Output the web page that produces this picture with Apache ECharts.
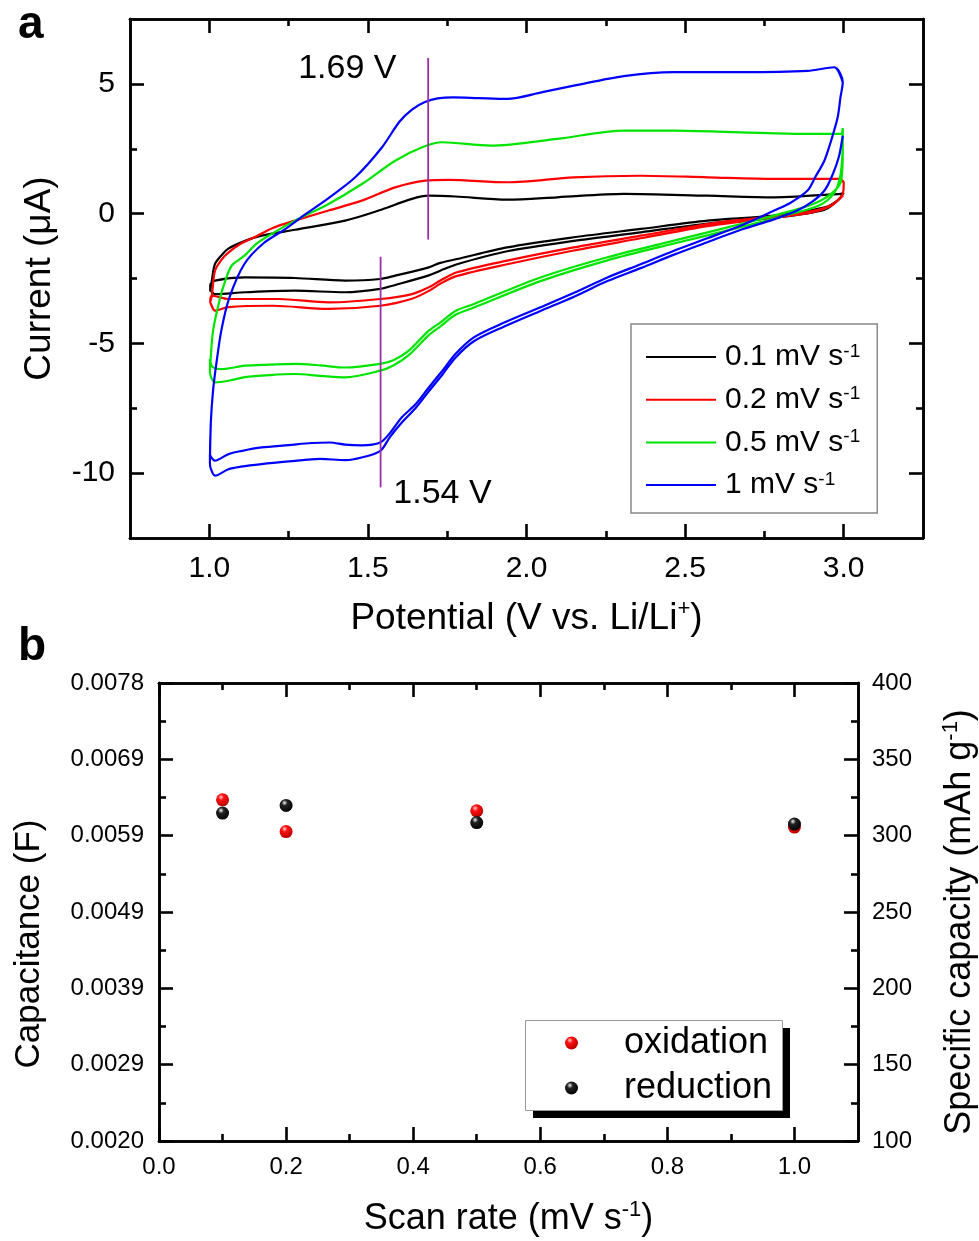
<!DOCTYPE html>
<html>
<head>
<meta charset="utf-8">
<script src="https://cdn.jsdelivr.net/npm/echarts@6/dist/echarts.min.js"></script>
<style>
  html, body { margin: 0; padding: 0; background: #ffffff; }
  #chart { width: 979px; height: 1241px; }
</style>
</head>
<body>
<div id="chart"></div>
<script>
// ---------- Panel a: cyclic voltammograms ----------
const potentialTicks = [1.0, 1.5, 2.0, 2.5, 3.0];
const potentialMinorTicks = [1.25, 1.75, 2.25, 2.75];
const currentTicks = [-10, -5, 0, 5];
const currentMinorTicks = [-7.5, -2.5, 2.5];
const scanRates = ['0.1', '0.2', '0.5', '1'];
const cvColors = ['#000000', '#ff0000', '#00e400', '#0000ff'];

// [potential (V), current (µA)] — first cathodic sweep, anodic sweep, second cathodic sweep
const cv01CathodicA = [[2.99,0.62],[2.94,0.15],[2.781,-0.16],[2.571,-0.38],[2.36,-0.72],[2.149,-1.05],[1.939,-1.45],[1.781,-1.95],[1.728,-2.2],[1.692,-2.38],[1.586,-2.75],[1.539,-2.9],[1.428,-3.03],[1.27,-2.97],[1.113,-3.03],[1.018,-3.1],[1.003,-2.95]];
const cv01Anodic = [[1.003,-3.0],[1.008,-2.58],[1.018,-1.94],[1.039,-1.6],[1.06,-1.35],[1.113,-1.05],[1.165,-0.85],[1.27,-0.62],[1.428,-0.27],[1.534,0.12],[1.639,0.57],[1.692,0.69],[1.776,0.66],[1.939,0.54],[2.097,0.63],[2.307,0.76],[2.571,0.69],[2.781,0.63],[2.99,0.76],[3.0,0.8]];
const cv01CathodicB = [[3.0,0.8],[2.98,0.5],[2.94,0.24],[2.781,-0.08],[2.571,-0.27],[2.36,-0.59],[2.149,-0.91],[1.939,-1.3],[1.781,-1.75],[1.728,-1.9],[1.692,-2.07],[1.586,-2.39],[1.539,-2.52],[1.428,-2.58],[1.27,-2.48],[1.113,-2.46],[1.018,-2.58],[1.003,-2.75]];

const cv02CathodicA = [[2.998,0.7],[2.96,0.3],[2.9,0.05],[2.78,-0.16],[2.571,-0.48],[2.36,-0.95],[2.149,-1.42],[1.939,-1.95],[1.781,-2.4],[1.728,-2.7],[1.692,-2.98],[1.639,-3.28],[1.539,-3.55],[1.376,-3.67],[1.2,-3.55],[1.06,-3.6],[1.018,-3.74],[1.004,-3.45]];
const cv02Anodic = [[1.003,-3.4],[1.008,-3.16],[1.018,-2.2],[1.04,-1.75],[1.06,-1.5],[1.1,-1.15],[1.144,-0.9],[1.2,-0.55],[1.27,-0.27],[1.376,0.12],[1.481,0.5],[1.586,1.01],[1.681,1.27],[1.755,1.3],[1.939,1.21],[2.149,1.4],[2.36,1.46],[2.571,1.4],[2.781,1.34],[2.981,1.34],[3.0,1.21]];
const cv02CathodicB = [[3.0,1.21],[2.998,0.8],[2.97,0.4],[2.92,0.15],[2.8,-0.08],[2.65,-0.27],[2.571,-0.4],[2.36,-0.85],[2.149,-1.3],[1.939,-1.81],[1.781,-2.26],[1.728,-2.58],[1.692,-2.84],[1.639,-3.1],[1.539,-3.29],[1.376,-3.42],[1.218,-3.29],[1.06,-3.29],[1.008,-3.16]];

const cv05CathodicA = [[2.997,2.6],[2.99,1.5],[2.97,0.8],[2.92,0.3],[2.8,-0.12],[2.676,-0.52],[2.465,-1.15],[2.255,-1.8],[2.044,-2.6],[1.834,-3.62],[1.776,-3.9],[1.728,-4.35],[1.692,-4.68],[1.629,-5.45],[1.58,-5.85],[1.539,-6.05],[1.428,-6.31],[1.35,-6.25],[1.27,-6.18],[1.19,-6.22],[1.113,-6.3],[1.06,-6.44],[1.018,-6.5],[1.003,-6.2]];
const cv05Anodic = [[1.002,-6.0],[1.003,-5.8],[1.012,-4.5],[1.034,-3.25],[1.05,-2.6],[1.071,-2.0],[1.113,-1.6],[1.15,-1.15],[1.197,-0.78],[1.27,-0.27],[1.376,0.37],[1.481,1.14],[1.586,2.04],[1.671,2.56],[1.734,2.75],[1.886,2.62],[2.097,2.88],[2.307,3.2],[2.465,3.2],[2.676,3.13],[2.886,3.07],[2.99,3.07],[2.997,3.3]];
const cv05CathodicB = [[2.997,3.3],[2.997,2.4],[2.992,1.27],[2.96,0.76],[2.9,0.35],[2.8,-0.01],[2.676,-0.4],[2.465,-1.04],[2.255,-1.68],[2.044,-2.46],[1.834,-3.48],[1.776,-3.75],[1.728,-4.2],[1.692,-4.51],[1.629,-5.28],[1.58,-5.65],[1.539,-5.79],[1.428,-5.93],[1.35,-5.85],[1.27,-5.79],[1.19,-5.82],[1.113,-5.86],[1.039,-5.99],[1.01,-5.9],[1.002,-5.6]];

const cv1CathodicA = [[2.997,3.0],[2.985,2.2],[2.965,1.5],[2.94,0.9],[2.9,0.45],[2.85,0.1],[2.78,-0.22],[2.676,-0.62],[2.57,-1.1],[2.465,-1.58],[2.36,-2.1],[2.255,-2.6],[2.15,-3.2],[2.044,-3.75],[1.93,-4.35],[1.834,-4.92],[1.776,-5.55],[1.735,-6.2],[1.692,-6.85],[1.65,-7.5],[1.607,-8.05],[1.57,-8.6],[1.539,-9.14],[1.48,-9.4],[1.428,-9.5],[1.35,-9.45],[1.25,-9.55],[1.165,-9.65],[1.1,-9.75],[1.06,-9.85],[1.018,-10.1],[1.004,-9.8]];
const cv1Anodic = [[1.002,-9.6],[1.005,-8.0],[1.012,-6.8],[1.022,-5.8],[1.038,-4.5],[1.063,-3.25],[1.11,-1.95],[1.17,-1.15],[1.239,-0.6],[1.3,-0.05],[1.376,0.6],[1.46,1.4],[1.544,2.55],[1.6,3.55],[1.64,4.02],[1.68,4.3],[1.72,4.44],[1.77,4.48],[1.85,4.45],[1.939,4.42],[2.05,4.68],[2.149,4.93],[2.307,5.3],[2.465,5.45],[2.676,5.45],[2.886,5.5],[2.97,5.64],[2.997,5.06]];
const cv1CathodicB = [[2.997,5.06],[2.99,4.5],[2.981,3.71],[2.96,2.8],[2.939,2.04],[2.91,1.4],[2.886,0.89],[2.83,0.4],[2.781,0.12],[2.676,-0.46],[2.57,-0.95],[2.465,-1.43],[2.36,-1.95],[2.255,-2.46],[2.15,-3.05],[2.044,-3.61],[1.93,-4.2],[1.834,-4.77],[1.776,-5.41],[1.735,-6.05],[1.692,-6.7],[1.65,-7.35],[1.607,-7.85],[1.57,-8.45],[1.539,-8.82],[1.48,-8.93],[1.428,-8.9],[1.38,-8.82],[1.323,-8.84],[1.25,-8.92],[1.165,-9.01],[1.1,-9.15],[1.06,-9.27],[1.018,-9.52],[1.002,-9.3]];

const cvSweeps = [
  [cv01CathodicA, cv01Anodic, cv01CathodicB],
  [cv02CathodicA, cv02Anodic, cv02CathodicB],
  [cv05CathodicA, cv05Anodic, cv05CathodicB],
  [cv1CathodicA, cv1Anodic, cv1CathodicB]
];

// peak potentials marked with vertical guides
const oxidationPeak = 1.69;
const reductionPeak = 1.54;
const oxidationGuide = [6.0, -1.0];
const reductionGuide = [-1.66, -10.55];

// ---------- Panel b: capacitance / specific capacity vs scan rate ----------
const scanRateValues = [0.1, 0.2, 0.5, 1.0];
const oxidationCapacity = [323.5, 302.7, 316.3, 305.6];
const reductionCapacity = [314.8, 319.8, 308.6, 307.6];
const scanRateTicks = [0, 0.2, 0.4, 0.6, 0.8, 1.0];
const scanRateMinorTicks = [0.1, 0.3, 0.5, 0.7, 0.9];
const capacityTicks = [100, 150, 200, 250, 300, 350, 400];
const capacityMinorTicks = [125, 175, 225, 275, 325, 375];
const capacitanceTicks = ['0.0020', '0.0029', '0.0039', '0.0049', '0.0059', '0.0069', '0.0078'];

const FONT = '"Liberation Sans", Arial, Helvetica, sans-serif';
const BLACK = '#000000';

function tickAxis(base, values, len, width, withLabels, labelOpt) {
  return Object.assign({
    type: 'value',
    axisLine: { show: true, onZero: false, lineStyle: { color: BLACK, width: width } },
    axisTick: { show: true, inside: true, length: len, customValues: values, lineStyle: { color: BLACK, width: width } },
    axisLabel: withLabels ? Object.assign({ show: true, customValues: values, color: BLACK, fontFamily: FONT }, labelOpt) : { show: false },
    splitLine: { show: false },
    minorTick: { show: false },
    minorSplitLine: { show: false }
  }, base);
}

function sphere(light, mid, dark) {
  return {
    type: 'radial', x: 0.38, y: 0.3, r: 0.75,
    colorStops: [
      { offset: 0, color: light },
      { offset: 0.3, color: mid },
      { offset: 1, color: dark }
    ]
  };
}

function supRich(size) {
  return {
    t: { fontSize: size, fontFamily: FONT, color: BLACK, lineHeight: size + 4 },
    s: { fontSize: Math.round(size * 0.6), fontFamily: FONT, color: BLACK, lineHeight: 14, verticalAlign: 'top' }
  };
}

const cvSeries = scanRates.map((rate, i) => {
  const [cathA, anodic, cathB] = cvSweeps[i];
  return {
    name: rate,
    type: 'line',
    xAxisIndex: 0,
    yAxisIndex: 0,
    data: [].concat(cathA, anodic, cathB, anodic),
    symbol: 'none',
    smooth: 0.3,
    lineStyle: { color: cvColors[i], width: 2.2 },
    itemStyle: { color: cvColors[i] },
    z: 3 + i
  };
});

const guideColor = '#9a2fa6';
function guideSeries(v, span) {
  return {
    type: 'line', xAxisIndex: 0, yAxisIndex: 0,
    data: [[v, span[0]], [v, span[1]]],
    symbol: 'none', silent: true,
    lineStyle: { color: guideColor, width: 1.8 },
    z: 10
  };
}
function peakLabelSeries(v, at) {
  return {
    type: 'scatter', xAxisIndex: 0, yAxisIndex: 0,
    data: [at], symbolSize: 1, silent: true,
    itemStyle: { color: 'rgba(0,0,0,0)', opacity: 1 },
    label: {
      show: true, position: 'inside', formatter: v.toFixed(2) + ' V',
      fontSize: 34, color: BLACK, opacity: 1, textBorderWidth: 0, fontFamily: FONT
    },
    z: 11
  };
}

const option = {
  animation: false,
  backgroundColor: '#ffffff',
  grid: [
    { left: 130, top: 19, width: 793, height: 519, outerBoundsMode: 'none' },
    { left: 159, top: 683, width: 699, height: 458, outerBoundsMode: 'none' }
  ],
  xAxis: [
    tickAxis({ gridIndex: 0, position: 'bottom', min: 0.75, max: 3.25,
      name: '{t|Potential (V vs. Li/Li}{s|+}{t|)}', nameLocation: 'middle', nameGap: 60,
      nameTextStyle: { rich: supRich(37) } },
      potentialTicks, 14, 2.6, true, { fontSize: 30, margin: 16, formatter: v => v.toFixed(1) }),
    tickAxis({ gridIndex: 0, position: 'bottom', min: 0.75, max: 3.25 }, potentialMinorTicks, 7, 2.6, false),
    tickAxis({ gridIndex: 0, position: 'top', min: 0.75, max: 3.25 }, potentialTicks, 14, 2.6, false),
    tickAxis({ gridIndex: 0, position: 'top', min: 0.75, max: 3.25 }, potentialMinorTicks, 7, 2.6, false),

    tickAxis({ gridIndex: 1, position: 'bottom', min: 0, max: 1.1,
      name: '{t|Scan rate (mV s}{s|-1}{t|)}', nameLocation: 'middle', nameGap: 58,
      nameTextStyle: { rich: supRich(36) } },
      scanRateTicks, 14, 2.6, true, { fontSize: 24, margin: 14, formatter: v => v.toFixed(1) }),
    tickAxis({ gridIndex: 1, position: 'bottom', min: 0, max: 1.1 }, scanRateMinorTicks, 7, 2.6, false),
    tickAxis({ gridIndex: 1, position: 'top', min: 0, max: 1.1 }, scanRateTicks, 14, 2.6, false),
    tickAxis({ gridIndex: 1, position: 'top', min: 0, max: 1.1 }, scanRateMinorTicks, 7, 2.6, false)
  ],
  yAxis: [
    tickAxis({ gridIndex: 0, position: 'left', min: -12.5, max: 7.5,
      name: 'Current (\u03bcA)', nameLocation: 'middle', nameGap: 72, nameRotate: 90,
      nameTextStyle: { fontSize: 37, fontFamily: FONT, color: BLACK } },
      currentTicks, 14, 2.6, true, { fontSize: 30, margin: 15, formatter: v => String(v) }),
    tickAxis({ gridIndex: 0, position: 'left', min: -12.5, max: 7.5 }, currentMinorTicks, 7, 2.6, false),
    tickAxis({ gridIndex: 0, position: 'right', min: -12.5, max: 7.5 }, currentTicks, 14, 2.6, false),
    tickAxis({ gridIndex: 0, position: 'right', min: -12.5, max: 7.5 }, currentMinorTicks, 7, 2.6, false),

    tickAxis({ gridIndex: 1, position: 'left', min: 100, max: 400,
      name: 'Capacitance (F)', nameLocation: 'middle', nameGap: 112, nameRotate: 90,
      nameTextStyle: { fontSize: 35, fontFamily: FONT, color: BLACK, padding: [0, 64, 0, 0] } },
      capacityTicks, 14, 2.6, true, { fontSize: 24, margin: 15, formatter: v => capacitanceTicks[Math.round((v - 100) / 50)] }),
    tickAxis({ gridIndex: 1, position: 'left', min: 100, max: 400 }, capacityMinorTicks, 7, 2.6, false),
    tickAxis({ gridIndex: 1, position: 'right', min: 100, max: 400,
      name: '{t|Specific capacity (mAh g}{s|-1}{t|)}', nameLocation: 'middle', nameGap: 82, nameRotate: 90,
      nameTextStyle: { rich: supRich(36), padding: [0, 20, 0, 0] } },
      capacityTicks, 14, 2.6, true, { fontSize: 24, margin: 14, formatter: v => String(v) }),
    tickAxis({ gridIndex: 1, position: 'right', min: 100, max: 400 }, capacityMinorTicks, 7, 2.6, false)
  ],
  legend: [
    {
      data: scanRates,
      orient: 'vertical',
      left: 631, top: 324,
      padding: [18, 17, 13, 15],
      icon: 'rect',
      itemWidth: 70, itemHeight: 2, itemGap: 12.7,
      selectedMode: false,
      borderColor: '#888888', borderWidth: 1.5, backgroundColor: '#ffffff',
      formatter: name => '{v|' + name + ' mV s}{s|-1}',
      textStyle: {
        rich: {
          v: { fontSize: 30, lineHeight: 30, fontFamily: FONT, color: BLACK, padding: [0, 0, 0, 4] },
          s: { fontSize: 19, lineHeight: 12, fontFamily: FONT, color: BLACK, verticalAlign: 'top' }
        }
      }
    },
    {
      data: ['oxidation', 'reduction'],
      orient: 'vertical',
      left: 525, top: 1020,
      padding: [5, 8, 4, 40],
      itemWidth: 13, itemHeight: 13, itemGap: 9,
      selectedMode: false,
      z: 20,
      textStyle: { fontSize: 36, lineHeight: 36, fontFamily: FONT, color: BLACK, padding: [0, 0, 0, 41] }
    }
  ],
  series: cvSeries.concat([
    guideSeries(oxidationPeak, oxidationGuide),
    guideSeries(reductionPeak, reductionGuide),
    peakLabelSeries(oxidationPeak, [1.435, 5.59]),
    peakLabelSeries(reductionPeak, [1.735, -10.8]),
    {
      name: 'oxidation', type: 'scatter', xAxisIndex: 4, yAxisIndex: 4,
      data: scanRateValues.map((x, i) => [x, oxidationCapacity[i]]),
      symbol: 'circle', symbolSize: 13,
      itemStyle: { color: sphere('#ffd0d0', '#ff1010', '#b00000'), opacity: 1 },
      z: 3
    },
    {
      name: 'reduction', type: 'scatter', xAxisIndex: 4, yAxisIndex: 4,
      data: scanRateValues.map((x, i) => [x, reductionCapacity[i]]),
      symbol: 'circle', symbolSize: 13,
      itemStyle: { color: sphere('#f4f4f4', '#222222', '#000000'), opacity: 1 },
      z: 4
    }
  ]),
  graphic: [
    { type: 'text', left: 18, top: 2, style: { text: 'a', font: 'bold 46px ' + FONT, fill: BLACK } },
    { type: 'text', left: 18, top: 624, style: { text: 'b', font: 'bold 46px ' + FONT, fill: BLACK } },
    // legend frame of panel b with its solid drop shadow
    { type: 'rect', left: 533, top: 1028, z: 10, shape: { width: 257, height: 90 }, style: { fill: '#000000' } },
    { type: 'rect', left: 525, top: 1020, z: 11, shape: { width: 257, height: 90 }, style: { fill: '#ffffff', stroke: '#9a9a9a', lineWidth: 1 } }
  ]
};

const chart = echarts.init(document.getElementById('chart'), null, { renderer: 'canvas' });
chart.setOption(option);
</script>
</body>
</html>
